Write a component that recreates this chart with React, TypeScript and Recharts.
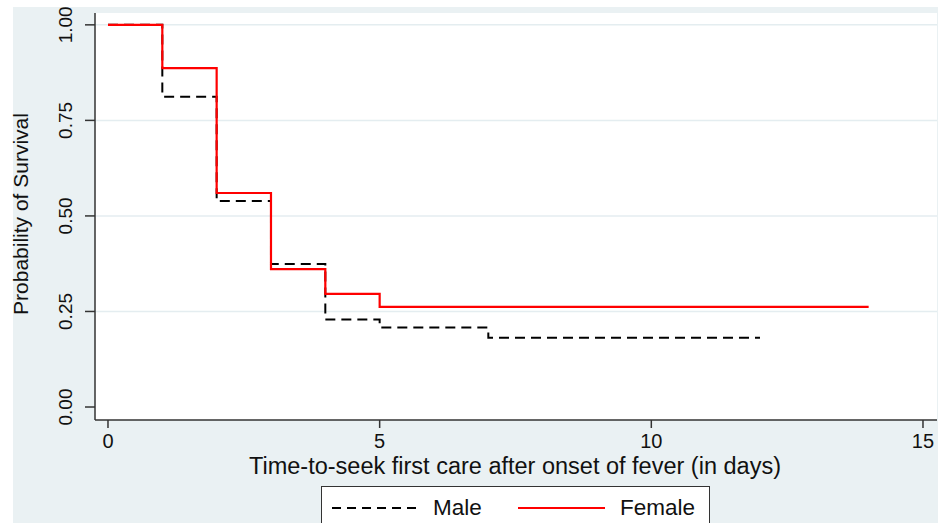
import { LineChart, Line, XAxis, YAxis, CartesianGrid } from 'recharts';

// Kaplan-Meier survival estimates
const maleDays = [0, 1, 2, 3, 4, 5, 7, 12];
const maleSurvival = [1.0, 0.812, 0.539, 0.374, 0.229, 0.208, 0.181, 0.181];
const femaleDays = [0, 1, 2, 3, 4, 5, 14];
const femaleSurvival = [1.0, 0.887, 0.56, 0.361, 0.296, 0.262, 0.262];

const xTicks = [0, 5, 10, 15];
const yTicks = [0, 0.25, 0.5, 0.75, 1];
const yTickLabels = ['0.00', '0.25', '0.50', '0.75', '1.00'];

const FONT = '"Liberation Sans", Arial, sans-serif';
const AXIS = '#333';

const maleData = maleDays.map((d, i) => ({ day: d, s: maleSurvival[i] }));
const femaleData = femaleDays.map((d, i) => ({ day: d, s: femaleSurvival[i] }));

function YTick(props: any) {
  const { y, payload } = props;
  const label = yTickLabels[yTicks.indexOf(payload.value)];
  return (
    <text
      x={72}
      y={y}
      transform={`rotate(-90, 72, ${y})`}
      textAnchor="middle"
      fontSize={19}
      fontFamily={FONT}
      fill="#111"
    >
      {label}
    </text>
  );
}

function XTick(props: any) {
  const { x, payload } = props;
  return (
    <text x={x} y={448} textAnchor="middle" fontSize={20} fontFamily={FONT} fill="#111">
      {payload.value}
    </text>
  );
}

export default function App() {
  return (
    <div style={{ position: 'fixed', left: 0, top: 0, width: 938, height: 523, background: '#fff', overflow: 'hidden' }}>
      <div style={{ position: 'absolute', left: 13, top: 7, width: 925, height: 516, background: '#EAF1F3' }} />
      <div style={{ position: 'absolute', left: 0, top: 0 }}>
        <LineChart width={938} height={523} margin={{ top: 13, right: 1, bottom: 43, left: 13 }}>
          <CartesianGrid
            vertical={false}
            horizontalValues={[0.25, 0.5, 0.75, 1]}
            stroke="#E4EDF0"
            strokeWidth={1.5}
            fill="#fff"
            fillOpacity={1}
          />
          <XAxis
            type="number"
            dataKey="day"
            domain={[-0.239, 15.258]}
            allowDataOverflow
            ticks={xTicks}
            tick={<XTick />}
            height={60}
            stroke={AXIS}
            strokeWidth={1.5}
            tickSize={8}
          />
          <YAxis
            type="number"
            dataKey="s"
            domain={[-0.034, 1.031]}
            allowDataOverflow
            ticks={yTicks}
            tick={<YTick />}
            width={82}
            stroke={AXIS}
            strokeWidth={1.5}
            tickSize={10}
          />
          <Line
            data={maleData}
            dataKey="s"
            type="stepAfter"
            stroke="#000"
            strokeWidth={2}
            strokeDasharray="10 6"
            dot={false}
            isAnimationActive={false}
          />
          <Line
            data={femaleData}
            dataKey="s"
            type="stepAfter"
            stroke="#FF0000"
            strokeWidth={2.2}
            dot={false}
            isAnimationActive={false}
          />
          <text
            x={28}
            y={214}
            transform="rotate(-90, 28, 214)"
            textAnchor="middle"
            fontSize={21}
            fontFamily={FONT}
            fill="#111"
          >
            Probability of Survival
          </text>
          <text x={515} y={474} textAnchor="middle" fontSize={23.5} fontFamily={FONT} fill="#111">
            Time-to-seek first care after onset of fever (in days)
          </text>
        </LineChart>
      </div>
      <div
        style={{
          position: 'absolute',
          left: 321,
          top: 486,
          width: 387,
          height: 50,
          background: '#fff',
          border: `1.5px solid ${AXIS}`,
        }}
      >
        <svg width={387} height={50} style={{ position: 'absolute', left: 0, top: 0 }}>
          <line x1={10} y1={21} x2={97} y2={21} stroke="#000" strokeWidth={2} strokeDasharray="9 6" />
          <text x={111} y={28} fontSize={22.5} fontFamily={FONT} fill="#111">
            Male
          </text>
          <line x1={196} y1={21} x2={283} y2={21} stroke="#FF0000" strokeWidth={2.2} />
          <text x={298} y={28} fontSize={22.5} fontFamily={FONT} fill="#111">
            Female
          </text>
        </svg>
      </div>
    </div>
  );
}
